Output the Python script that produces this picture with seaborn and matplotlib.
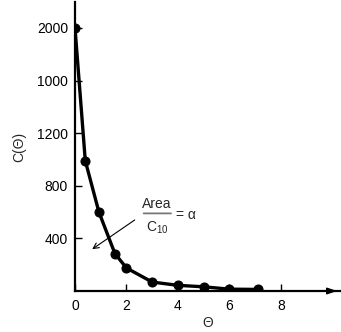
import matplotlib
matplotlib.use("Agg")
import matplotlib.pyplot as plt
import seaborn as sns
import pandas as pd

theta = [0, 0.4, 0.93, 1.55, 2.0, 3.0, 4.0, 5.0, 6.0, 7.1]
conc = [2000, 990, 600, 285, 175, 68, 43, 32, 14, 12]
xticks = [0, 2, 4, 6, 8]
xticklabels = ["0", "2", "4", "6", "8"]
yticks = [400, 800, 1200, 1600, 2000]
yticklabels = ["400", "800", "1200", "1000", "2000"]

sns.set_style("ticks")
plt.rcParams["font.family"] = ["Liberation Sans", "DejaVu Sans"]
plt.rcParams["mathtext.fontset"] = "custom"
plt.rcParams["mathtext.rm"] = "Liberation Sans"
plt.rcParams["mathtext.it"] = "Liberation Sans"
plt.rcParams["mathtext.default"] = "rm"

df = pd.DataFrame({"theta": theta, "C": conc})

fig = plt.figure(figsize=(3.41, 3.32), dpi=100)
ax = fig.add_axes([75 / 341, 41 / 332, (340 - 75) / 341, (291 - 2) / 332])

sns.lineplot(data=df, x="theta", y="C", ax=ax, color="black", linewidth=2.4,
             marker="o", markersize=6.5, markeredgecolor="black", markerfacecolor="black")

ax.set_xlim(0, 10.3)
ax.set_ylim(0, 2197)
ax.set_xticks(xticks)
ax.set_xticklabels(xticklabels)
ax.set_yticks(yticks)
ax.set_yticklabels(yticklabels)
ax.tick_params(axis="both", direction="in", length=5, width=1.0, labelsize=10, colors="black")
ax.tick_params(axis="x", pad=6)
ax.tick_params(axis="y", pad=5)

for s in ["left", "bottom"]:
    ax.spines[s].set_linewidth(1.6)
    ax.spines[s].set_color("black")
    ax.spines[s].set_zorder(0)
sns.despine(ax=ax)

ax.annotate("", xy=(1.0, 0), xytext=(0.96, 0), xycoords="axes fraction",
            arrowprops=dict(arrowstyle="-|>,head_length=0.6,head_width=0.2",
                            color="black", lw=1.0), annotation_clip=False)

ax.set_xlabel("Θ", fontsize=10, labelpad=2)
ax.set_ylabel("C(Θ)", fontsize=10, labelpad=8)

# Annotation: Area / C10 = alpha
ax.text(3.18, 663, "Area", fontsize=10, ha="center", va="center")
ax.text(3.18, 478, "C$_{10}$", fontsize=10, ha="center", va="center")
ax.annotate("", xy=(3.84, 590), xytext=(2.56, 590),
            arrowprops=dict(arrowstyle="-", color="#777777", lw=1.3))
ax.text(4.3, 580, "= α", fontsize=10, ha="center", va="center")
ax.annotate("", xy=(0.58, 306), xytext=(2.41, 552),
            arrowprops=dict(arrowstyle="->,head_length=0.4,head_width=0.2",
                            color="black", lw=0.8))

fig.savefig("out.png", dpi=100)
